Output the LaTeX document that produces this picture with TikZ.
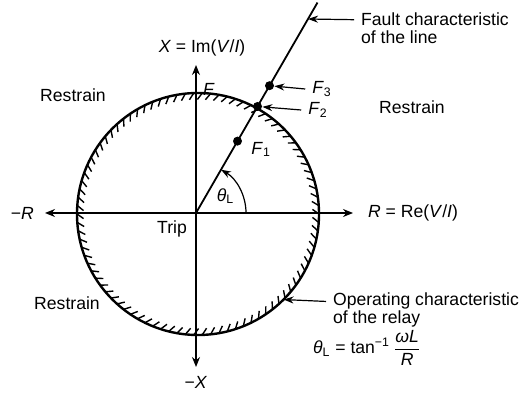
\documentclass[tikz,border=0pt]{standalone}
\usepackage{amsmath}
\usepackage{fontspec}
\setmainfont{Liberation Sans}
\usetikzlibrary{arrows.meta, positioning, calc}

\begin{document}
\begin{tikzpicture}[x=0.5pt, y=-0.5pt,
    font=\fontsize{8.8}{10.5}\selectfont,
    axis/.style={{Stealth[length=5pt,width=4pt]}-{Stealth[length=5pt,width=4pt]}, line width=0.7pt},
    pointer/.style={-{Stealth[length=5pt,width=3.5pt]}, line width=0.6pt},
    fdot/.style={circle, fill, inner sep=0pt, minimum size=4.5pt},
    hatch/.style={line width=0.7pt}]
    \useasboundingbox (0,0) rectangle (528,394);
    % Origin and centre of the relay circle
    \coordinate (O) at (196,213);
    \coordinate (C) at (198,214);
    % Operating characteristic with hatching on the trip side
    \draw[line width=1.2pt] (C) circle [radius=121];
    \foreach \a in {0,4,...,356}
       \draw[hatch] ($(C)+(\a:121)$) -- ++(\a+215:8);
    % Axes
    \coordinate (Rneg) at (45,213);
    \coordinate (Rpos) at (353,213);
    \coordinate (Xpos) at (196,65);
    \coordinate (Xneg) at (196,367);
    \draw[axis] (Rneg) -- (Rpos);
    \draw[axis] (Xneg) -- (Xpos);
    \node (rlab) [right=4pt of Rpos] {\textit{R} = Re(\textit{V}/\textit{I})};
    \node (nrlab) [left=2pt of Rneg] {−\textit{R}};
    \node (xlab) [above=1pt of Xpos, xshift=3pt] {\textit{X} = Im(\textit{V}/\textit{I})};
    \node (nxlab) [below=1pt of Xneg] {−\textit{X}};
    % Fault characteristic of the line
    \coordinate (Ftop) at ($(O)+(-60:243)$);
    \draw[line width=0.9pt] (O) -- (Ftop);
    \node[fdot] (F1) at ($(O)+(-60:83)$) {};
    \node[fdot] (F2) at ($(O)+(-60:123)$) {};
    \node[fdot] (F3) at ($(O)+(-60:147)$) {};
    \node (F1lab) [right=1pt of F1, yshift=-4pt] {\textit{F}\textsubscript{1}};
    \node (F2lab) at (318,110) {\textit{F}\textsubscript{2}};
    \node (F3lab) at (322,89) {\textit{F}\textsubscript{3}};
    \draw[pointer] (F2lab.west) -- (F2);
    \draw[pointer] (F3lab.west) -- (F3);
    \node (Ftoplab) at (209,89) {\textit{F}};
    % Angle of the line
    \draw[pointer] ($(O)+(0:50)$) arc [start angle=0, end angle=-60, radius=50];
    \node (thlab) at ($(O)+(-30:34)$) {\textit{θ}\textsubscript{L}};
    % Zones
    \node (trip) at (172,229) {Trip};
    \node (rs1) at (73,95) {Restrain};
    \node (rs2) at (412,107) {Restrain};
    \node (rs3) at (67,303) {Restrain};
    % Notes
    \coordinate (Fhit) at ($(O)+(-60:224)$);
    \node (fault1) [anchor=base west] at (354,26) {Fault characteristic};
    \node (fault2) [anchor=base west] at (354,44) {of the line};
    \draw[pointer] (fault1.west) -- (Fhit);
    \coordinate (Ohit) at ($(C)+(45:121)$);
    \node (op1) [anchor=base west] at (326,306) {Operating characteristic};
    \node (op2) [anchor=base west] at (326,323) {of the relay};
    \draw[pointer] (op1.west) -- (Ohit);
    \node (formula) [anchor=west] at (306,348)
       {\textit{θ}\textsubscript{L} = tan\textsuperscript{−1}\,$\dfrac{\text{\textit{ωL}}}{\text{\textit{R}}}$};
\end{tikzpicture}
\end{document}
